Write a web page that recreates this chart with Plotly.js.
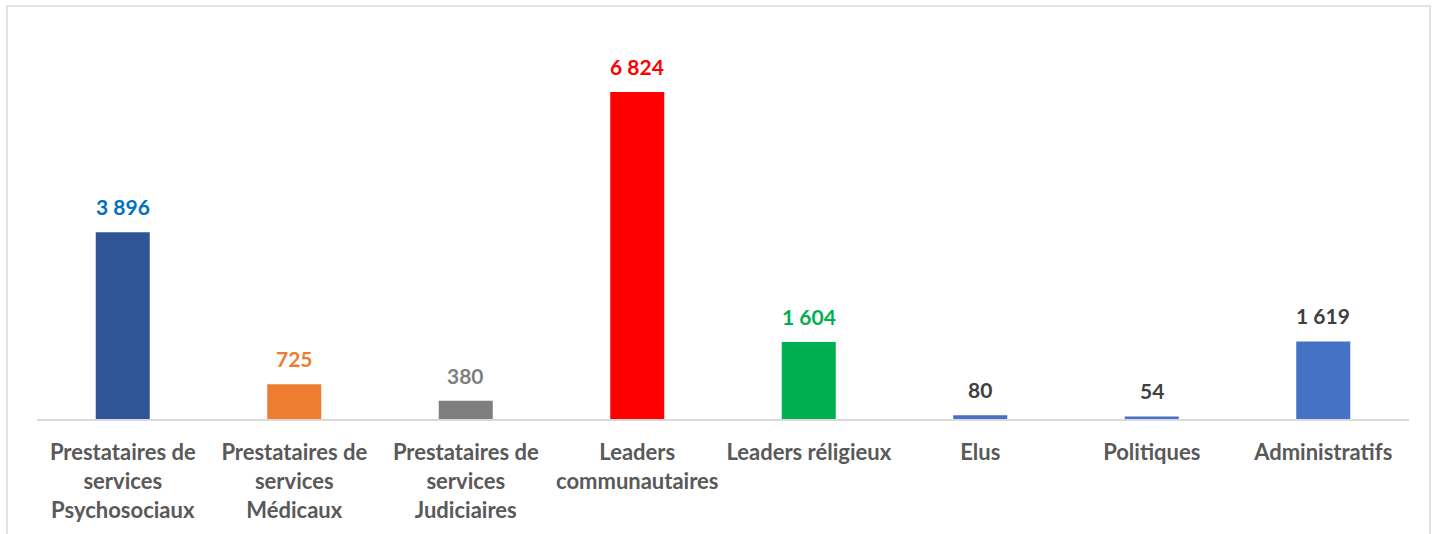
<!DOCTYPE html>
<html>
<head>
<meta charset="utf-8">
<script src="https://cdn.plot.ly/plotly-3.0.1.min.js"></script>
<style>html,body{margin:0;padding:0;background:#fff;}#chart{width:1440px;height:534px;}</style>
</head>
<body>
<div id="chart"></div>
<script>
const categories = [
  "Prestataires de<br>services<br>Psychosociaux",
  "Prestataires de<br>services<br>Médicaux",
  "Prestataires de<br>services<br>Judiciaires",
  "Leaders<br>communautaires",
  "Leaders réligieux",
  "Elus",
  "Politiques",
  "Administratifs"
];
const values = [3896, 725, 380, 6824, 1604, 80, 54, 1619];
const barColors = ["#2F5597", "#ED7D31", "#7F7F7F", "#FF0000", "#00B050", "#4472C4", "#4472C4", "#4472C4"];
const labelColors = ["#0070C0", "#ED7D31", "#7F7F7F", "#FF0000", "#00B050", "#404040", "#404040", "#404040"];

function fmt(v) { return String(v).replace(/\B(?=(\d{3})+(?!\d))/g, " "); }

const FONT = "Lato, 'Noto Sans', sans-serif";

const trace = {
  type: "bar",
  x: categories,
  y: values,
  marker: { color: barColors },
  hoverinfo: "none"
};

const annotations = values.map((v, i) => ({
  x: categories[i], y: v, xref: "x", yref: "y",
  text: "<b>" + fmt(v) + "</b>",
  showarrow: false, yanchor: "bottom", yshift: 11,
  font: { family: FONT, size: 21, color: labelColors[i] }
}));

const layout = {
  width: 1440, height: 534,
  margin: { l: 37, r: 31, t: 36, b: 115 },
  paper_bgcolor: "#ffffff", plot_bgcolor: "#ffffff",
  showlegend: false,
  bargap: 0.685,
  xaxis: {
    type: "category",
    showline: true, linecolor: "#D9D9D9", linewidth: 2,
    ticks: "", showgrid: false, zeroline: false,
    tickfont: { family: FONT, size: 22, color: "#595959", weight: "bold" },
    ticklabelstandoff: 13,
    tickangle: 0, automargin: false
  },
  yaxis: {
    range: [0, 7990], visible: false, showgrid: false, zeroline: false
  },
  annotations: annotations,
  shapes: [{
    type: "rect", xref: "paper", yref: "paper",
    x0: -0.0219, x1: 1.0153, y0: -0.5, y1: 1.0783,
    line: { color: "#D9D9D9", width: 1.5 }, fillcolor: "rgba(0,0,0,0)", layer: "below"
  }]
};

Plotly.newPlot("chart", [trace], layout, { staticPlot: true, displayModeBar: false });
</script>
</body>
</html>
